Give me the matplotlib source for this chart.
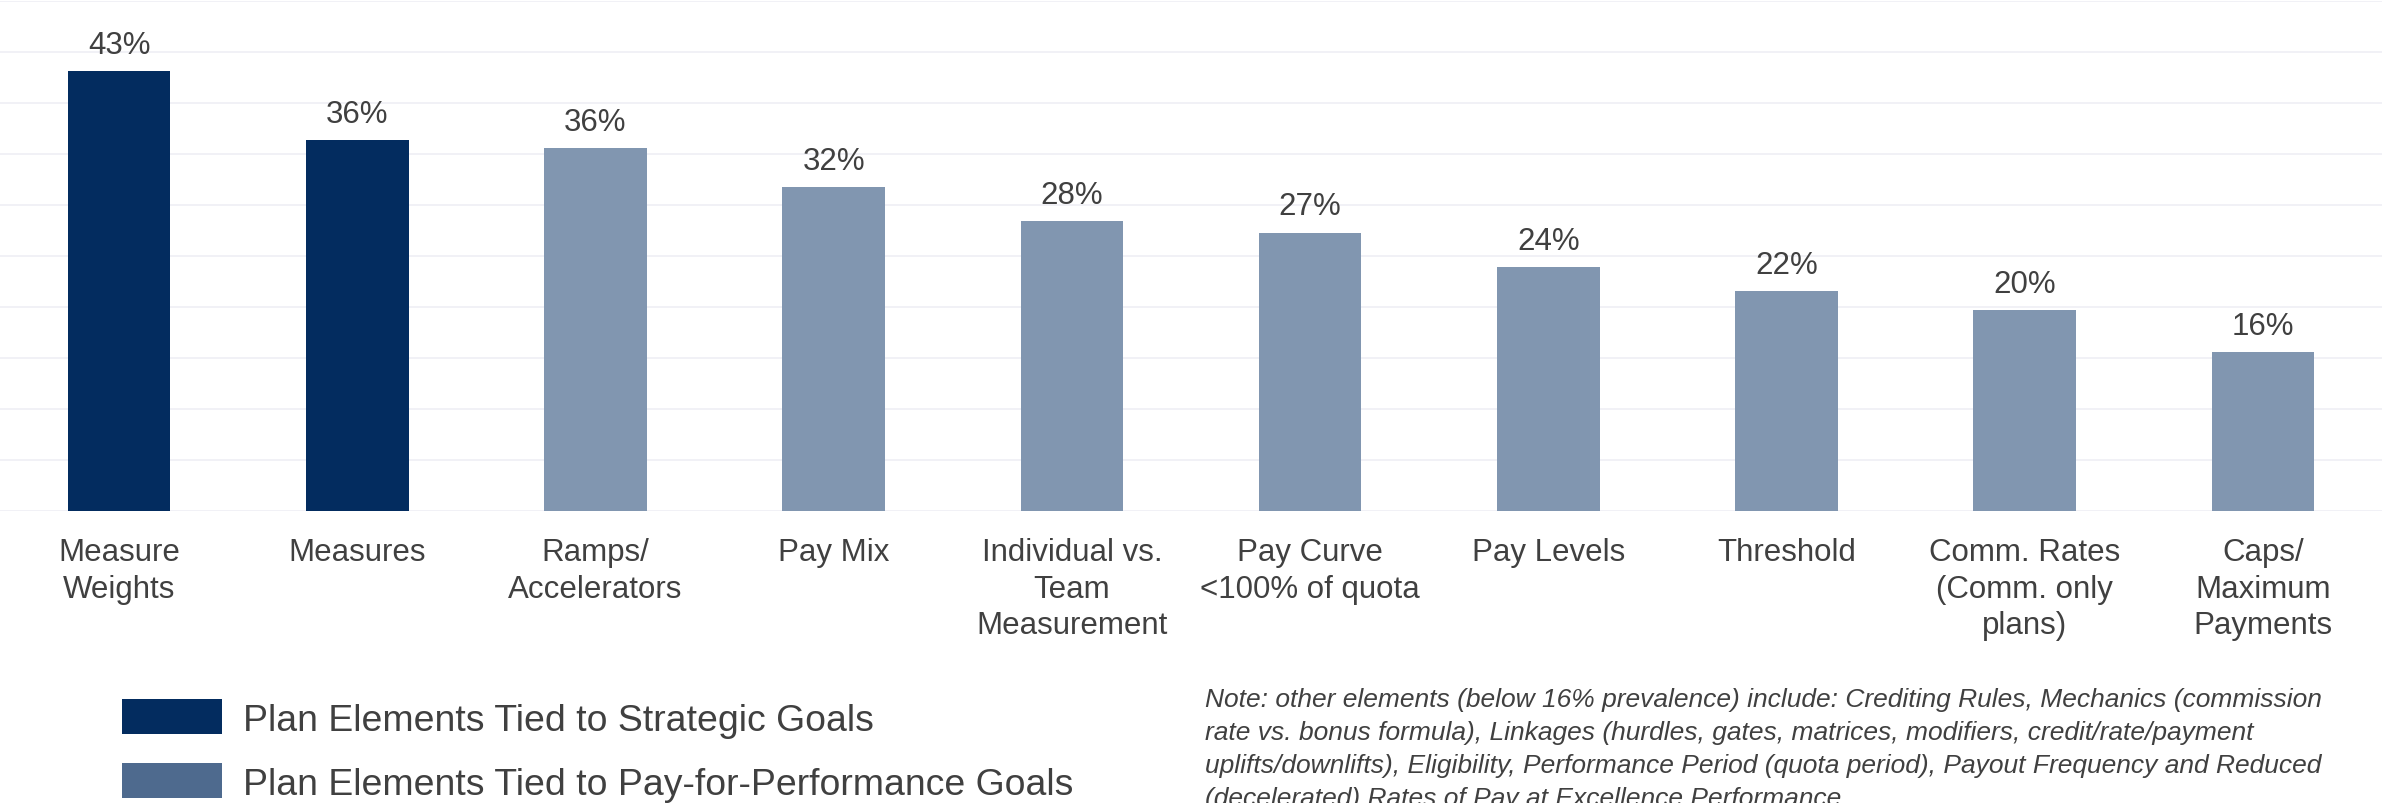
import matplotlib
matplotlib.use("Agg")
import matplotlib.pyplot as plt
from matplotlib.patches import Rectangle

plt.rcParams['font.family'] = ['Liberation Sans', 'DejaVu Sans']

categories = ["Measure\nWeights", "Measures", "Ramps/\nAccelerators", "Pay Mix",
              "Individual vs.\nTeam\nMeasurement", "Pay Curve\n<100% of quota",
              "Pay Levels", "Threshold", "Comm. Rates\n(Comm. only\nplans)",
              "Caps/\nMaximum\nPayments"]
values = [43.1, 36.4, 35.6, 31.8, 28.4, 27.3, 23.9, 21.6, 19.7, 15.6]
groups = ["strategic", "strategic", "pay", "pay", "pay", "pay", "pay", "pay", "pay", "pay"]
legend_labels = ["Plan Elements Tied to Strategic Goals",
                 "Plan Elements Tied to Pay-for-Performance Goals"]
note_text = ("Note: other elements (below 16% prevalence) include: Crediting Rules, Mechanics (commission\n"
             "rate vs. bonus formula), Linkages (hurdles, gates, matrices, modifiers, credit/rate/payment\n"
             "uplifts/downlifts), Eligibility, Performance Period (quota period), Payout Frequency and Reduced\n"
             "(decelerated) Rates of Pay at Excellence Performance")

bar_colors = {"strategic": "#032c5f", "pay": "#8196b0"}
legend_colors = ["#032c5f", "#4e6a8e"]
text_color = "#404040"

W, H = 2382, 804
fig = plt.figure(figsize=(W / 100, H / 100), dpi=100)
ax = fig.add_axes([0, 1 - 512 / H, 1, (512 - 2) / H])

x = list(range(len(categories)))
ax.bar(x, values, width=0.43, color=[bar_colors[g] for g in groups], zorder=3)

for xi, v in zip(x, values):
    ax.annotate(f"{v:.0f}%", (xi, v), xytext=(0, 13), textcoords="offset points",
                ha="center", va="baseline", fontsize=22.5, color=text_color)

ax.set_xlim(-0.5, len(categories) - 0.5)
ax.set_ylim(0, 50)
ax.set_yticks(range(0, 51, 5))
ax.yaxis.grid(True, color="#f1f1f6", linewidth=1.4, zorder=0)
ax.set_axisbelow(True)
ax.tick_params(axis="y", left=False, labelleft=False)
ax.set_xticks(x)
ax.set_xticklabels(categories, fontsize=22.5, color=text_color, linespacing=1.27)
ax.tick_params(axis="x", length=0, pad=19)
for s in ax.spines.values():
    s.set_visible(False)

# legend drawn manually
rows_y = [717.5, 781.5]
for lab, col, cy in zip(legend_labels, legend_colors, rows_y):
    fig.add_artist(Rectangle((122 / W, 1 - (cy + 17.5) / H), 100 / W, 35 / H,
                             transform=fig.transFigure, facecolor=col, edgecolor="none"))
    fig.text(243 / W, 1 - cy / H, lab, fontsize=26.9, color=text_color,
             ha="left", va="center_baseline")

fig.text(1205 / W, 1 - 688 / H, note_text, fontsize=19, style="italic",
         color=text_color, ha="left", va="top", linespacing=1.48)

fig.savefig("out.png", dpi=100, facecolor="white")
